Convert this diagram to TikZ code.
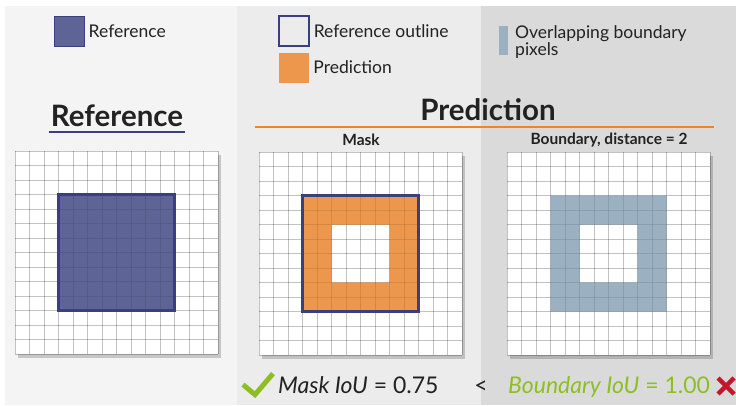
\documentclass[tikz,border=0pt]{standalone}
\usepackage{fontspec}
\setmainfont{Lato}
\usetikzlibrary{positioning, calc, shadows}
\definecolor{refblue}{HTML}{5F6496}
\definecolor{refline}{HTML}{3A3F80}
\definecolor{predorange}{HTML}{EC974B}
\definecolor{bndgrey}{HTML}{9BB0C1}
\definecolor{lineorange}{HTML}{EC8526}
\definecolor{okgreen}{HTML}{8DBF22}
\definecolor{badred}{HTML}{C4172C}
\definecolor{panelA}{HTML}{F4F4F4}
\definecolor{panelB}{HTML}{ECECEC}
\definecolor{panelC}{HTML}{DADADA}
\definecolor{inkgrey}{HTML}{222222}

\tikzset{
  pixgrid/.style={fill=white, minimum width=203pt, minimum height=203pt, inner sep=0pt,
    drop shadow={shadow xshift=3pt, shadow yshift=-4pt, opacity=.18, fill=black}},
  gridlines/.style={draw=black, opacity=.24, line width=1pt},
  legbox/.style={minimum width=30pt, minimum height=30pt, inner sep=0pt},
  legtext/.style={inner sep=0pt, text=inkgrey, font=\fontsize{17.5}{13.5}\selectfont, align=left},
  bigtitle/.style={inner sep=0pt, text=inkgrey, font=\bfseries\fontsize{29.5}{29.5}\selectfont},
  subtitle/.style={inner sep=0pt, text=inkgrey, font=\bfseries\fontsize{15.5}{15.5}\selectfont},
  iou/.style={inner sep=0pt, font=\fontsize{23}{23}\selectfont},
}
\newcommand{\cellsz}{14.5}

\begin{document}
\begin{tikzpicture}[x=1pt, y=-1pt]
  \useasboundingbox (0,0) rectangle (736,405);
  % panels
  \fill[white] (0,0) rectangle (736,405);
  \fill[panelA] (5,6) rectangle (237,405);
  \fill[panelB] (237,6) rectangle (481,405);
  \fill[panelC] (481,6) rectangle (736,405);

  % legend
  \node[legbox, fill=refblue, draw=refline, line width=1pt] (legref) at (69,31) {};
  \node[legtext, right=4pt of legref] {Reference};
  \node[legbox, draw=refline, line width=1.2pt] (legout) at (294,31) {};
  \node[legtext, right=4pt of legout] {Reference outline};
  \node[legbox, fill=predorange] (legpred) at (294,67.5) {};
  \node[legtext, right=4pt of legpred] {Prediction};
  \node[fill=bndgrey, minimum width=9pt, minimum height=29pt, inner sep=0pt] (legbnd) at (503.5,40.5) {};
  \node[legtext, anchor=north west] (legbndtext) at (515,25) {Overlapping boundary\\pixels};

  % titles
  \node[bigtitle] (reftitle) at (117,116) {Reference};
  \draw[refline, line width=2pt] ($(reftitle.south west)+(-2,5)$) -- ($(reftitle.south east)+(2,5)$);
  \node[bigtitle] (predtitle) at (488,110) {Prediction};
  \coordinate (orangeL) at (255,127);
  \coordinate (orangeR) at (714,127);
  \draw[lineorange, line width=2.5pt] (orangeL) -- (orangeR);
  \node[subtitle] (masktitle) at (361,140) {Mask};
  \node[subtitle] (bndtitle) at (609,140) {Boundary, distance = 2};

  % grids
  \node[pixgrid, anchor=north west] (gref) at (15,151) {};
  \node[pixgrid, anchor=north west] (gmask) at (259,152) {};
  \node[pixgrid, anchor=north west] (gbnd) at (507,152) {};

  % reference square
  \fill[refblue] ($(gref.north west)+(3*\cellsz,3*\cellsz)$) rectangle ($(gref.north west)+(11*\cellsz,11*\cellsz)$);
  % prediction ring
  \fill[predorange, even odd rule]
    ($(gmask.north west)+(3*\cellsz,3*\cellsz)$) rectangle ($(gmask.north west)+(11*\cellsz,11*\cellsz)$)
    ($(gmask.north west)+(5*\cellsz,5*\cellsz)$) rectangle ($(gmask.north west)+(9*\cellsz,9*\cellsz)$);
  % boundary overlap
  \fill[bndgrey, even odd rule]
    ($(gbnd.north west)+(3*\cellsz,3*\cellsz)$) rectangle ($(gbnd.north west)+(11*\cellsz,11*\cellsz)$)
    ($(gbnd.north west)+(5*\cellsz,5*\cellsz)$) rectangle ($(gbnd.north west)+(9*\cellsz,9*\cellsz)$);

  \foreach \g in {gref, gmask, gbnd} {
    \foreach \i in {0,...,14} {
      \draw[gridlines] ($(\g.north west)+(\i*\cellsz,0)$) -- ($(\g.north west)+(\i*\cellsz,14*\cellsz)$);
      \draw[gridlines] ($(\g.north west)+(0,\i*\cellsz)$) -- ($(\g.north west)+(14*\cellsz,\i*\cellsz)$);
    }
  }

  % soften the grid inside the filled pixels
  \fill[refblue, opacity=.6] ($(gref.north west)+(3*\cellsz,3*\cellsz)$) rectangle ($(gref.north west)+(11*\cellsz,11*\cellsz)$);
  \fill[predorange, opacity=.6, even odd rule]
    ($(gmask.north west)+(3*\cellsz,3*\cellsz)$) rectangle ($(gmask.north west)+(11*\cellsz,11*\cellsz)$)
    ($(gmask.north west)+(5*\cellsz,5*\cellsz)$) rectangle ($(gmask.north west)+(9*\cellsz,9*\cellsz)$);
  \fill[bndgrey, opacity=.6, even odd rule]
    ($(gbnd.north west)+(3*\cellsz,3*\cellsz)$) rectangle ($(gbnd.north west)+(11*\cellsz,11*\cellsz)$)
    ($(gbnd.north west)+(5*\cellsz,5*\cellsz)$) rectangle ($(gbnd.north west)+(9*\cellsz,9*\cellsz)$);

  % outlines
  \draw[refline, line width=2.5pt] ($(gref.north west)+(3*\cellsz,3*\cellsz)$) rectangle ($(gref.north west)+(11*\cellsz,11*\cellsz)$);
  \draw[refline, line width=2.5pt] ($(gmask.north west)+(3*\cellsz,3*\cellsz)$) rectangle ($(gmask.north west)+(11*\cellsz,11*\cellsz)$);

  % IoU comparison
  \node[iou, anchor=base west, text=inkgrey] (maskiou) at (278,393) {\textit{Mask IoU} = 0.75};
  \node[iou, anchor=base, text=inkgrey] (lessthan) at (481,393) {<};
  \node[iou, anchor=base west, text=okgreen] (bndiou) at (508,393) {\textit{Boundary IoU} = 1.00};
  \draw[okgreen, line width=5pt] ($(maskiou.west)+(-35,0)$) -- ($(maskiou.west)+(-23,10)$) -- ($(maskiou.west)+(-5,-11)$);
  \coordinate (crossc) at (726,386);
  \draw[badred, line width=4.5pt] ($(crossc)+(-8,-8)$) -- ($(crossc)+(8,8)$)
    ($(crossc)+(-8,8)$) -- ($(crossc)+(8,-8)$);
\end{tikzpicture}
\end{document}
